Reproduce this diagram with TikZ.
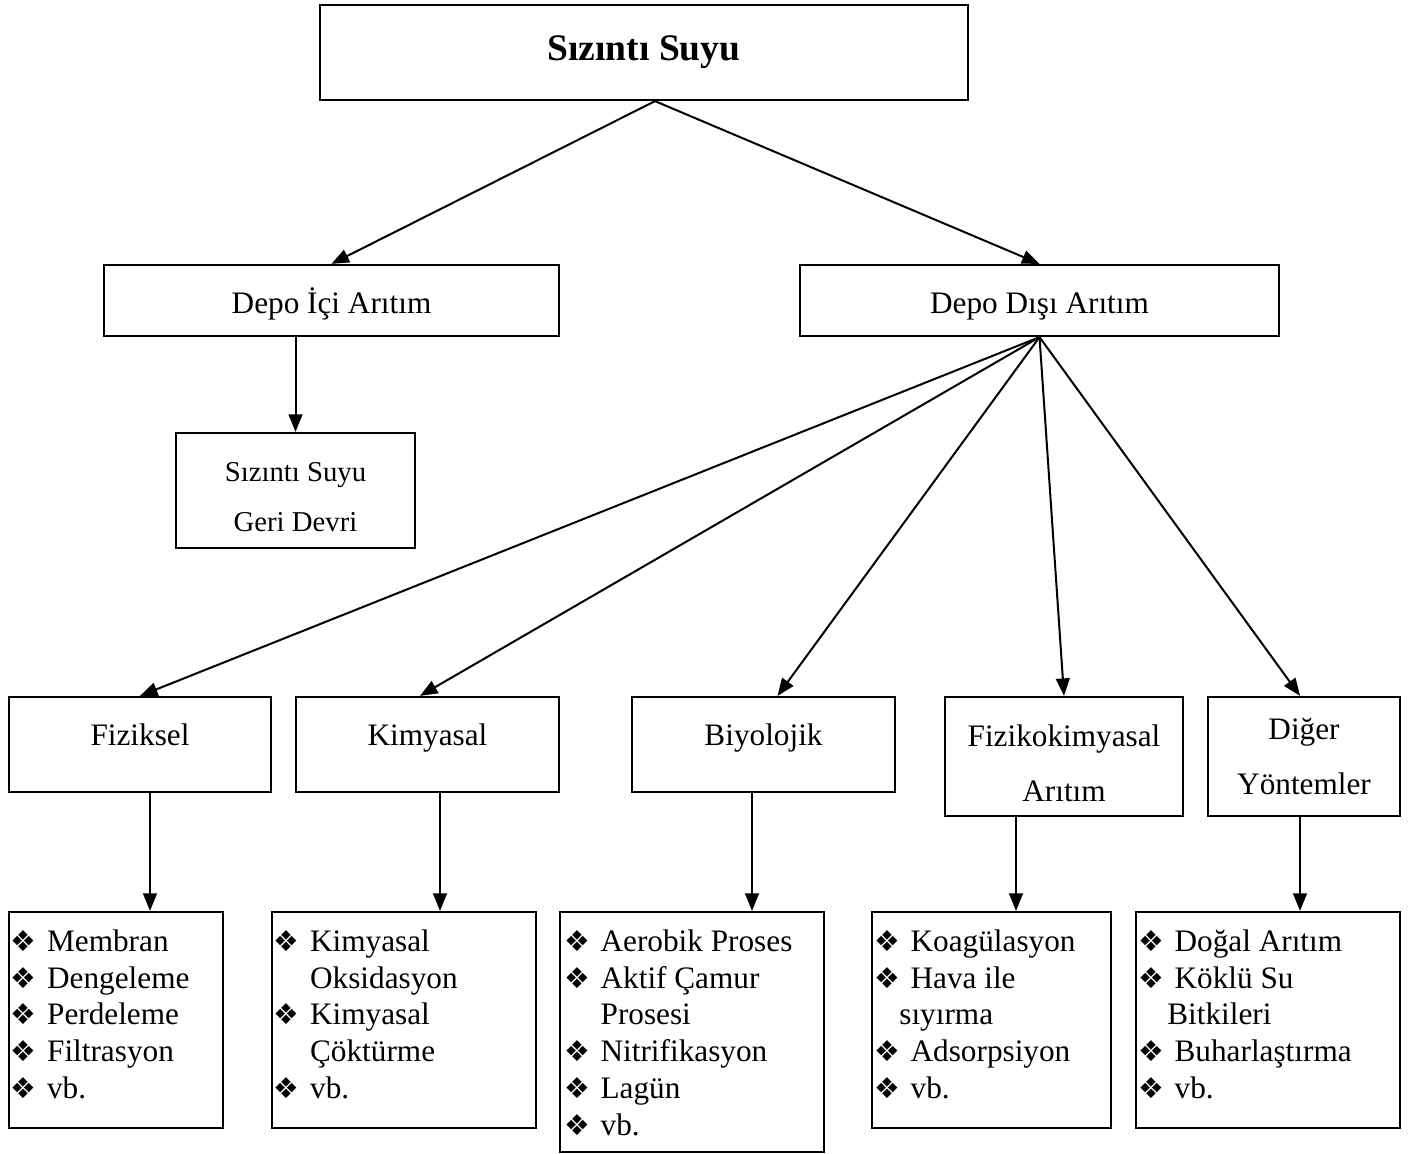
\documentclass[tikz,border=0pt]{standalone}
\usepackage{fontspec}
\setmainfont{Liberation Serif}
\newfontfamily\bulletfont{DejaVu Sans}
\usetikzlibrary{arrows.meta}

\newcommand{\lsitem}[1]{\strut\makebox[14.5pt][l]{\bulletfont\fontsize{11.5}{11.5}\selectfont ❖}#1}
\newcommand{\lscont}[2][14.5pt]{\strut\hspace*{#1}#2}

\tikzset{
    box/.style={draw, line width=0.9pt, inner sep=0pt, align=center, font=\fontsize{12.5}{22}\selectfont},
    hightext/.style={text height=9pt, text depth=8pt},
    midtext/.style={text height=11pt, text depth=1pt},
    listtext/.style={inner sep=0pt, align=left, anchor=north west, font=\fontsize{12.5}{14.7}\selectfont},
    arr/.style={-{Triangle[length=7pt,width=5.5pt]}, line width=0.8pt},
}

\begin{document}
\begin{tikzpicture}[x=0.4pt, y=-0.4pt]
        \useasboundingbox (0,0) rectangle (1410,1153);

        % Top
        \node[box, minimum width=259.2pt, minimum height=38pt, font=\bfseries\fontsize{15}{18}\selectfont] (root) at (644,52.5) {Sızıntı Suyu};

        % Second level
        \node[box, midtext, minimum width=182pt, minimum height=28.4pt] (ici) at (331.5,300.5) {Depo İçi Arıtım};
        \node[box, midtext, minimum width=191.6pt, minimum height=28.4pt] (disi) at (1039.5,300.5) {Depo Dışı Arıtım};
        \node[box, minimum width=95.6pt, minimum height=46pt, font=\fontsize{11.5}{20}\selectfont] (geri) at (295.5,490.5) {\rule{0pt}{13pt}Sızıntı Suyu\\Geri Devri};

        % Methods
        \node[box, hightext, minimum width=104.8pt, minimum height=38pt] (fiz) at (140,744.5) {Fiziksel};
        \node[box, hightext, minimum width=105.2pt, minimum height=38pt] (kim) at (427.5,744.5) {Kimyasal};
        \node[box, hightext, minimum width=105.2pt, minimum height=38pt] (bio) at (763.5,744.5) {Biyolojik};
        \node[box, minimum width=95.2pt, minimum height=47.6pt] (fk) at (1064,756.5) {\rule{0pt}{14pt}Fizikokimyasal\\Arıtım};
        \node[box, minimum width=76.8pt, minimum height=47.6pt] (dig) at (1304,756.5) {Diğer\\Yöntemler};

        % Lists
        \node[box, minimum width=85.6pt, minimum height=86.4pt] (l1) at (116,1020) {};
        \node[box, minimum width=105.6pt, minimum height=86.4pt] (l2) at (404,1020) {};
        \node[box, minimum width=105.6pt, minimum height=96pt] (l3) at (692,1032) {};
        \node[box, minimum width=95.6pt, minimum height=86.4pt] (l4) at (991.5,1020) {};
        \node[box, minimum width=105.6pt, minimum height=86.4pt] (l5) at (1268,1020) {};

        \node[listtext] (l1txt) at ([xshift=1pt, yshift=-5.7pt]l1.north west)
            {\lsitem{Membran}\\\lsitem{Dengeleme}\\\lsitem{Perdeleme}\\\lsitem{Filtrasyon}\\\lsitem{vb.}};
        \node[listtext] (l2txt) at ([xshift=1pt, yshift=-5.7pt]l2.north west)
            {\lsitem{Kimyasal}\\\lscont{Oksidasyon}\\\lsitem{Kimyasal}\\\lscont{Çöktürme}\\\lsitem{vb.}};
        \node[listtext] (l3txt) at ([xshift=2pt, yshift=-5.7pt]l3.north west)
            {\lsitem{Aerobik Proses}\\\lsitem{Aktif Çamur}\\\lscont{Prosesi}\\\lsitem{Nitrifikasyon}\\\lsitem{Lagün}\\\lsitem{vb.}};
        \node[listtext] (l4txt) at ([xshift=1.2pt, yshift=-5.7pt]l4.north west)
            {\lsitem{Koagülasyon}\\\lsitem{Hava ile}\\\lscont[10pt]{sıyırma}\\\lsitem{Adsorpsiyon}\\\lsitem{vb.}};
        \node[listtext] (l5txt) at ([xshift=1.2pt, yshift=-5.7pt]l5.north west)
            {\lsitem{Doğal Arıtım}\\\lsitem{Köklü Su}\\\lscont[11.6pt]{Bitkileri}\\\lsitem{Buharlaştırma}\\\lsitem{vb.}};

        % Arrows
        \draw[arr] ([xshift=4.4pt]root.south) -- (ici.north);
        \draw[arr] ([xshift=4.4pt]root.south) -- (disi.north);
        \draw[arr] (ici.south -| geri.north) -- (geri.north);
        \foreach \n/\s in {fiz/0pt, kim/-3pt, bio/5.6pt, fk/0pt, dig/-1.6pt}
            \draw[arr] (disi.south) -- ([xshift=\s]\n.north);
        \foreach \n/\m/\s in {fiz/l1/4pt, kim/l2/5pt, bio/l3/-4.6pt, fk/l4/-19.2pt, dig/l5/-1.6pt}
            \draw[arr] ([xshift=\s]\n.south) coordinate (tmp) -- (tmp |- \m.north);

    \end{tikzpicture}
\end{document}
